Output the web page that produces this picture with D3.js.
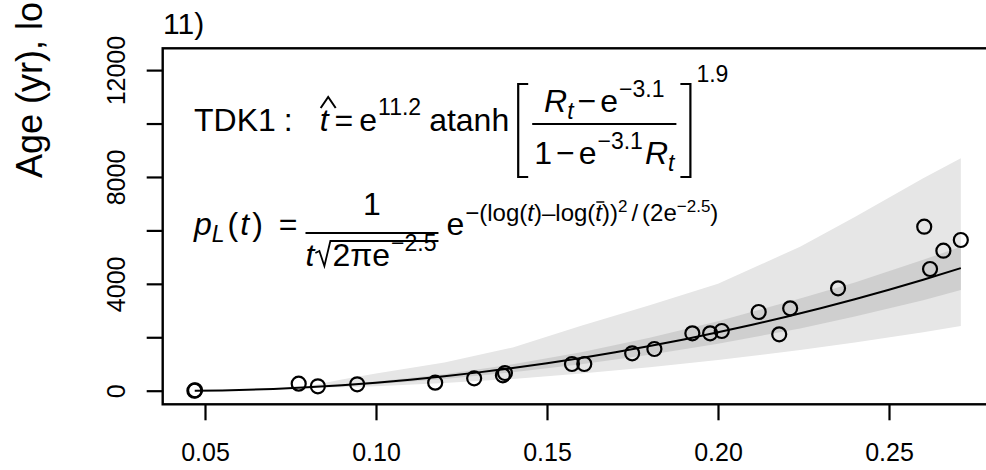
<!DOCTYPE html>
<html><head><meta charset="utf-8">
<script src="https://cdn.jsdelivr.net/npm/d3@7"></script>
<style>body{margin:0;background:#fff}svg{display:block}text{font-family:"Liberation Sans",Arial,sans-serif;fill:#000}</style>
</head><body>
<script>
// ---- data ----
const ptX = [0.0469, 0.0471, 0.0774, 0.0830, 0.0945, 0.1173, 0.1287, 0.1371, 0.1377, 0.1573, 0.1609, 0.1749, 0.1814, 0.1925, 0.1977, 0.2011, 0.2119, 0.2179, 0.2211, 0.2351, 0.2603, 0.2620, 0.2659, 0.2710];
const ptY = [0, 15, 262, 165, 240, 300, 464, 576, 662, 1000, 1000, 1400, 1560, 2148, 2148, 2234, 2945, 2111, 3084, 3832, 6138, 4555, 5240, 5640];
const curveX = [0.047, 0.055, 0.06, 0.07, 0.08, 0.09, 0.10, 0.11, 0.12, 0.13, 0.14, 0.15, 0.16, 0.17, 0.18, 0.19, 0.20, 0.21, 0.22, 0.23, 0.24, 0.25, 0.26, 0.271];
const curveY = [0.5, 11.5, 25, 66, 126, 203, 298, 410, 540, 686, 849, 1030, 1226, 1441, 1672, 1920, 2186, 2470, 2770, 3089, 3425, 3781, 4154, 4587];
const bandX = [0.078, 0.09, 0.10, 0.12, 0.14, 0.16, 0.18, 0.20, 0.224, 0.24, 0.26, 0.271];
const lightHi = [115, 420, 640, 1060, 1620, 2430, 3200, 4000, 5390, 6500, 7950, 8700];
const lightLo = [110, 130, 170, 290, 440, 640, 880, 1150, 1520, 1800, 2190, 2420];
const darkHi = [113, 230, 340, 620, 990, 1440, 1980, 2600, 3450, 4050, 4900, 5390];
const darkLo = [111, 170, 245, 440, 690, 990, 1350, 1760, 2330, 2780, 3390, 3770];
const xTicks = [0.05, 0.10, 0.15, 0.20, 0.25];
const yTicks = [0, 2000, 4000, 6000, 8000, 10000, 12000];
const yTickLabels = ["0", "", "4000", "", "8000", "", "12000"];
const titleText = "11)";
const yLabel = "Age (yr), lo";

const W = 986, H = 470;
const svg = d3.select("body").append("svg").attr("width", W).attr("height", H);
const x = d3.scaleLinear().domain([0.05, 0.25]).range([205, 889]);
const y = d3.scaleLinear().domain([0, 12000]).range([390.7, 70.1]);
const box = {l: 162.7, t: 48.3, r: 992, b: 404.3};

// bands
const idx = d3.range(bandX.length);
svg.append("path").datum(idx).attr("fill", "#e6e6e6")
  .attr("d", d3.area().x(i => x(bandX[i])).y0(i => y(lightLo[i])).y1(i => y(lightHi[i])));
svg.append("path").datum(idx).attr("fill", "#cfcfcf")
  .attr("d", d3.area().x(i => x(bandX[i])).y0(i => y(darkLo[i])).y1(i => y(darkHi[i])));

// curve
svg.append("path").datum(d3.range(curveX.length)).attr("fill", "none").attr("stroke", "#000").attr("stroke-width", 2)
  .attr("d", d3.line().x(i => x(curveX[i])).y(i => y(curveY[i])).curve(d3.curveMonotoneX));

// points
svg.append("g").selectAll("circle").data(d3.range(ptX.length)).join("circle")
  .attr("cx", i => x(ptX[i])).attr("cy", i => y(ptY[i])).attr("r", 7)
  .attr("fill", "none").attr("stroke", "#000").attr("stroke-width", 2.2);

// box
svg.append("rect").attr("x", box.l).attr("y", box.t).attr("width", box.r - box.l).attr("height", box.b - box.t)
  .attr("fill", "none").attr("stroke", "#000").attr("stroke-width", 2.4);

// axes
const gx = svg.append("g").attr("transform", `translate(0,${box.b})`)
  .call(d3.axisBottom(x).tickValues(xTicks).tickSize(16).tickFormat(d3.format(".2f")));
gx.select(".domain").remove();
gx.selectAll("line").attr("stroke-width", 2.2);
gx.selectAll("text").attr("y", 461 - box.b).attr("dy", 0).attr("font-size", 25)
  .attr("font-family", "Liberation Sans, Arial, sans-serif");

const gy = svg.append("g").attr("transform", `translate(${box.l},0)`)
  .call(d3.axisLeft(y).tickValues(yTicks).tickSize(16).tickFormat((d, i) => yTickLabels[i]));
gy.select(".domain").remove();
gy.selectAll("line").attr("stroke-width", 2.2);
gy.selectAll("text").attr("x", 0).attr("y", 0).attr("dy", 0).attr("text-anchor", "middle")
  .attr("font-size", 25).attr("font-family", "Liberation Sans, Arial, sans-serif")
  .attr("transform", `translate(${125 - box.l},0) rotate(-90)`);

// title and y label
svg.append("text").attr("x", 163).attr("y", 34).attr("font-size", 30).text(titleText);
svg.append("text").attr("transform", "translate(42,178) rotate(-90)").attr("font-size", 36).text(yLabel);

// ---- equations ----
const eq = svg.append("g");
function put(g, px, py, str, size, o = {}) {
  const t = g.append("text").attr("x", px).attr("y", py).attr("font-size", size).text(str);
  if (o.it) t.attr("font-style", "italic");
  return t;
}
function wid(t) { return t.node().getComputedTextLength(); }
function row(g, x0, y0, items) {
  let cx = x0; const pos = [];
  items.forEach(it => { cx += (it.gap || 0); pos.push(cx); cx += wid(put(g, cx, y0 + (it.dy || 0), it.t, it.s, it)); });
  return {end: cx, pos};
}
// line 1
const L1 = 131;
let r = row(eq, 194, L1, [{t: "TDK1", s: 32}, {t: ":", s: 32, gap: 8}]);
let tx = r.end + 27;
let tw = wid(put(eq, tx, L1, "t", 32, {it: true}));
eq.append("path").attr("d", `M${tx + 1},${L1 - 23} L${tx + 8.5},${L1 - 34} L${tx + 16},${L1 - 23}`)
  .attr("fill", "none").attr("stroke", "#000").attr("stroke-width", 2);
r = row(eq, tx + tw + 6, L1, [{t: "=", s: 32}, {t: "e", s: 32, gap: 6}, {t: "11.2", s: 23, dy: -16, gap: 1}, {t: "atanh", s: 32, gap: 8}]);
const bx = r.end + 9;
const bt = 84, bb = 177;
eq.append("path").attr("d", `M${bx + 10},${bt} H${bx} V${bb} H${bx + 10}`).attr("fill", "none").attr("stroke", "#000").attr("stroke-width", 2.2);
const numG = eq.append("g"), denG = eq.append("g");
const nr = row(numG, 0, 112, [{t: "R", s: 32, it: true}, {t: "t", s: 23, it: true, dy: 7}, {t: "\u2212", s: 32, gap: 4}, {t: "e", s: 32, gap: 4}, {t: "\u22123.1", s: 23, dy: -15, gap: 1}]);
const dr = row(denG, 0, 164, [{t: "1", s: 32}, {t: "\u2212", s: 32, gap: 4}, {t: "e", s: 32, gap: 4}, {t: "\u22123.1", s: 23, dy: -15, gap: 1}, {t: "R", s: 32, it: true, gap: 2}, {t: "t", s: 23, it: true, dy: 7}]);
const fw = Math.max(nr.end, dr.end);
const fx = bx + 16;
numG.attr("transform", `translate(${fx + (fw - nr.end) / 2},0)`);
denG.attr("transform", `translate(${fx + (fw - dr.end) / 2},0)`);
eq.append("line").attr("x1", fx - 2).attr("x2", fx + fw + 2).attr("y1", 124).attr("y2", 124).attr("stroke", "#000").attr("stroke-width", 2);
const rb = fx + fw + 6;
eq.append("path").attr("d", `M${rb},${bt} H${rb + 10} V${bb} H${rb}`).attr("fill", "none").attr("stroke", "#000").attr("stroke-width", 2.2);
put(eq, rb + 16, 82, "1.9", 23);

// line 2
const L2 = 235;
r = row(eq, 194, L2, [{t: "p", s: 32, it: true}, {t: "L", s: 23, it: true, dy: 7}, {t: "(", s: 32, gap: 3}, {t: "t", s: 32, it: true, gap: 2}, {t: ")", s: 32, gap: 3}, {t: "=", s: 32, gap: 16}]);
const f2x = r.end + 8;
const d2 = eq.append("g");
const DB = 266;
let dw1 = wid(put(d2, 0, DB, "t", 32, {it: true}));
const rx = dw1 + 1;
const d2r = row(d2, rx + 17, DB, [{t: "2\u03c0e", s: 32}, {t: "\u22122.5", s: 23, dy: -15, gap: 1}]);
d2.append("path").attr("d", `M${rx},${DB - 13} L${rx + 4},${DB - 15} L${rx + 9},${DB} L${rx + 15},${DB - 25} H${d2r.end + 2}`)
  .attr("fill", "none").attr("stroke", "#000").attr("stroke-width", 1.8);
const f2w = d2r.end + 2;
d2.attr("transform", `translate(${f2x},0)`);
const oneT = put(eq, 0, 215, "1", 32);
oneT.attr("x", f2x + (f2w - wid(oneT)) / 2);
eq.append("line").attr("x1", f2x).attr("x2", f2x + f2w).attr("y1", 233).attr("y2", 233).attr("stroke", "#000").attr("stroke-width", 2);
r = row(eq, f2x + f2w + 8, L2, [{t: "e", s: 32}]);
const SB = L2 - 14, SS = 24, S2 = 17;
const sr = row(eq, r.end + 1, SB, [
  {t: "\u2212(log(", s: SS}, {t: "t", s: SS, it: true}, {t: ")\u2013log(", s: SS},
  {t: "t", s: SS, it: true}, {t: "))", s: SS}, {t: "2", s: S2, dy: -9},
  {t: "/", s: SS, gap: 4}, {t: "(2e", s: SS, gap: 4}, {t: "\u22122.5", s: S2, dy: -9}, {t: ")", s: SS}
]);
const tbx = sr.pos[3];
eq.append("line").attr("x1", tbx + 1).attr("x2", tbx + 9).attr("y1", SB - 19).attr("y2", SB - 19).attr("stroke", "#000").attr("stroke-width", 1.5);
</script>
</body></html>
